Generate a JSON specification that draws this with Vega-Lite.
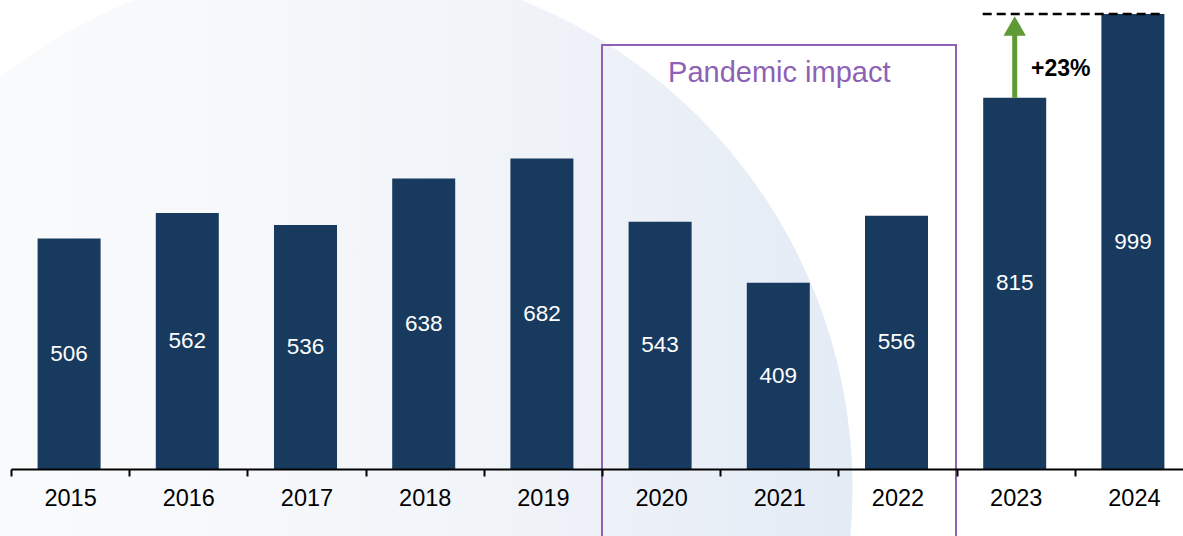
{
  "$schema": "https://vega.github.io/schema/vega-lite/v6.json",
  "autosize": "none",
  "width": 1172,
  "height": 455,
  "padding": {"left": 11, "top": 14, "right": 0, "bottom": 67},
  "background": "white",
  "config": {"view": {"stroke": null}, "font": "Liberation Sans"},
  "datasets": {
    "sales": [
      {"year": "2015", "value": 506},
      {"year": "2016", "value": 562},
      {"year": "2017", "value": 536},
      {"year": "2018", "value": 638},
      {"year": "2019", "value": 682},
      {"year": "2020", "value": 543},
      {"year": "2021", "value": 409},
      {"year": "2022", "value": 556},
      {"year": "2023", "value": 815},
      {"year": "2024", "value": 999}
    ]
  },
  "resolve": {"scale": {"y": "independent"}},
  "layer": [
    {
      "data": {"values": [{"year": "2017", "v": 0}]},
      "mark": {"type": "point", "shape": "circle", "filled": true, "size": 1102500, "xOffset": 21, "yOffset": 19, "opacity": 1, "strokeWidth": 0,
        "fill": {"gradient": "linear", "x1": 0, "x2": 1, "y1": 0, "y2": 0, "stops": [
          {"offset": 0, "color": "#fbfcfd"},
          {"offset": 0.35, "color": "#f8f9fb"},
          {"offset": 0.75, "color": "#eef2f8"},
          {"offset": 1, "color": "#e3ebf5"}
        ]}},
      "encoding": {
        "x": {"field": "year", "type": "nominal",
          "scale": {"type": "band", "domain": ["2015","2016","2017","2018","2019","2020","2021","2022","2023","2024"], "range": [0, 1182], "paddingInner": 0, "paddingOuter": 0},
          "axis": {"title": null, "labelAngle": 0, "labelFontSize": 23.5, "labelFontWeight": "normal", "labelColor": "#000000", "labelPadding": 10,
            "domainColor": "#000000", "domainWidth": 2, "tickColor": "#000000", "tickWidth": 2, "tickSize": 7, "tickBand": "extent", "grid": false, "zindex": 1}},
        "y": {"field": "v", "type": "quantitative", "scale": {"domain": [0, 999], "nice": false}, "axis": null}
      }
    },
    {
      "data": {"name": "sales"},
      "mark": {"type": "bar", "color": "#173a5e", "width": {"band": 0.533}, "xOffset": -1},
      "encoding": {
        "x": {"field": "year", "type": "nominal"},
        "y": {"field": "value", "type": "quantitative", "scale": {"domain": [0, 999], "nice": false}, "axis": null}
      }
    },
    {
      "data": {"name": "sales"},
      "mark": {"type": "text", "color": "#ffffff", "fontSize": 22.5, "baseline": "middle", "align": "center", "xOffset": -1},
      "encoding": {
        "x": {"field": "year", "type": "nominal"},
        "y": {"field": "value", "type": "quantitative", "scale": {"domain": [0, 1998], "nice": false}, "axis": null},
        "text": {"field": "value", "type": "quantitative"}
      }
    },
    {
      "data": {"values": [{"start": "2020", "end": "2022", "top": 931, "bottom": -200}]},
      "mark": {"type": "rect", "fill": null, "fillOpacity": 0, "stroke": "#8e61b5", "strokeWidth": 2, "xOffset": -59.1, "x2Offset": 58.5},
      "encoding": {
        "x": {"field": "start", "type": "nominal"},
        "x2": {"field": "end"},
        "y": {"field": "top", "type": "quantitative", "scale": {"domain": [0, 999], "nice": false}, "axis": null},
        "y2": {"field": "bottom"}
      }
    },
    {
      "data": {"values": [{"mid": "2021", "top": 931, "label": "Pandemic impact"}]},
      "mark": {"type": "text", "color": "#8e61b5", "fontSize": 29, "baseline": "middle", "align": "center", "yOffset": 28},
      "encoding": {
        "x": {"field": "mid", "type": "nominal"},
        "y": {"field": "top", "type": "quantitative", "scale": {"domain": [0, 999], "nice": false}, "axis": null},
        "text": {"field": "label"}
      }
    },
    {
      "data": {"values": [{"from": "2023", "to": "2024", "v": 999}]},
      "mark": {"type": "rule", "color": "#000000", "strokeWidth": 2.5, "strokeDash": [9, 5], "xOffset": -33, "x2Offset": 30.5},
      "encoding": {
        "x": {"field": "from", "type": "nominal"},
        "x2": {"field": "to"},
        "y": {"field": "v", "type": "quantitative", "scale": {"domain": [0, 999], "nice": false}, "axis": null}
      }
    },
    {
      "data": {"values": [{"year": "2023", "from": 815, "to": 999}]},
      "mark": {"type": "rule", "color": "#5f9a35", "strokeWidth": 5, "y2Offset": 12, "xOffset": -1},
      "encoding": {
        "x": {"field": "year", "type": "nominal"},
        "y": {"field": "from", "type": "quantitative", "scale": {"domain": [0, 999], "nice": false}, "axis": null},
        "y2": {"field": "to"}
      }
    },
    {
      "data": {"values": [{"year": "2023", "to": 999}]},
      "mark": {"type": "point", "shape": "triangle-up", "filled": true, "color": "#5f9a35", "opacity": 1, "size": 500, "yOffset": 12, "xOffset": -1, "strokeWidth": 0},
      "encoding": {
        "x": {"field": "year", "type": "nominal"},
        "y": {"field": "to", "type": "quantitative", "scale": {"domain": [0, 999], "nice": false}, "axis": null}
      }
    },
    {
      "data": {"values": [{"year": "2023", "from": 815, "label": "+23%"}]},
      "mark": {"type": "text", "color": "#000000", "fontSize": 23, "fontWeight": "bold", "baseline": "middle", "align": "center", "xOffset": 45, "yOffset": -29},
      "encoding": {
        "x": {"field": "year", "type": "nominal"},
        "y": {"field": "from", "type": "quantitative", "scale": {"domain": [0, 999], "nice": false}, "axis": null},
        "text": {"field": "label"}
      }
    }
  ]
}
